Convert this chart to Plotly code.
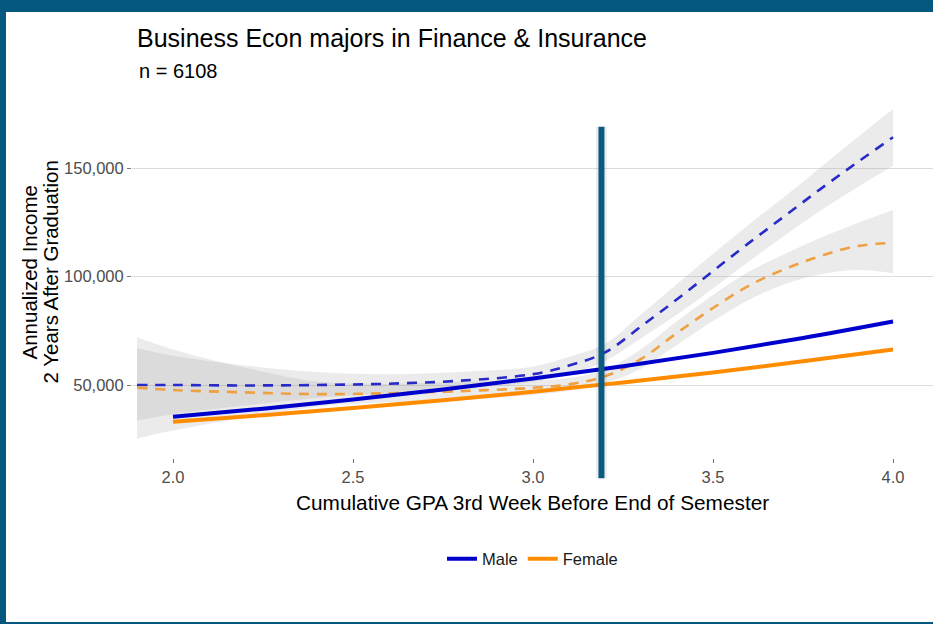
import plotly.graph_objects as go

# ---------------------------------------------------------------- data
# linear (log-scale) fits by gender
gpa_fit = [2.0, 2.25, 2.5, 2.75, 3.0, 3.25, 3.5, 3.75, 4.0]
male_fit = [35400, 39100, 43300, 47900, 53000, 58600, 64800, 71700, 79300]
female_fit = [33100, 36100, 39400, 43000, 46900, 51200, 55800, 60900, 66400]

# loess smooths with confidence bands
gpa_smooth = [1.9, 2.0, 2.2, 2.4, 2.6, 2.8, 3.0, 3.1, 3.2, 3.3, 3.4, 3.5, 3.6, 3.7, 3.8, 3.9, 4.0]
male_smooth = [50000, 50000, 49800, 50000, 50600, 52000, 55000, 59000, 65000, 77000,
               89500, 102500, 115500, 128000, 140500, 152500, 164200]
male_lo = [33600, 36500, 40500, 44000, 46300, 48000, 51500, 55000, 61000, 71500,
           82500, 94500, 107000, 119000, 130500, 141000, 151000]
male_hi = [66900, 63500, 59000, 56000, 55000, 56000, 58500, 63000, 69000, 82500,
           96500, 110500, 124000, 137000, 150500, 164000, 177200]
female_smooth = [48800, 47700, 46600, 45800, 46200, 47200, 48700, 50300, 54000, 62000,
                 74000, 85500, 95800, 103500, 109500, 114000, 115500]
female_lo = [25400, 29000, 35000, 40000, 42000, 43000, 45500, 47300, 50800, 57500,
             68500, 79500, 89300, 96500, 101000, 103000, 101500]
female_hi = [72000, 66400, 58000, 51600, 50500, 51500, 52000, 53300, 57200, 66500,
             79500, 91500, 102300, 110500, 118000, 124500, 130600]

# GPA cutoff marker and its vertical extent (income units)
cutoff_gpa = 3.19
cutoff_span = [7000, 169000]

y_ticks = [50000, 100000, 150000]
x_ticks = [2.0, 2.5, 3.0, 3.5, 4.0]

# ---------------------------------------------------------------- layout constants
W, H = 933, 624
M_L, M_R, M_T, M_B = 132, 0, 100, 166
PW, PH = W - M_L - M_R, H - M_T - M_B
X_RANGE = [1.886, 4.111]
Y_RANGE = [16360, 181340]

FONT = "Liberation Sans, Arial, sans-serif"
BLUE, ORANGE = "#0000cd", "#ff8c00"
BLUE_D, ORANGE_D = "#2a2ac8", "#efa040"
BAND = "rgba(153,153,153,0.2)"
FRAME = "#04577f"


def px_x(p):
    return (p - M_L) / PW


def px_y(p):
    return (H - M_B - p) / PH


def val_to_paper_y(v):
    return (v - Y_RANGE[0]) / (Y_RANGE[1] - Y_RANGE[0])


fig = go.Figure()

# confidence bands: lower edge, then upper edge filled down to it
for lo, hi in [(male_lo, male_hi), (female_lo, female_hi)]:
    fig.add_trace(go.Scatter(
        x=gpa_smooth, y=lo, mode="lines", line=dict(width=0, shape="spline"),
        hoverinfo="skip", showlegend=False))
    fig.add_trace(go.Scatter(
        x=gpa_smooth, y=hi, mode="lines", line=dict(width=0, shape="spline"),
        fill="tonexty", fillcolor=BAND, hoverinfo="skip", showlegend=False))

# loess smooths (dashed)
for ys, col in [(male_smooth, BLUE_D), (female_smooth, ORANGE_D)]:
    fig.add_trace(go.Scatter(
        x=gpa_smooth, y=ys, mode="lines", showlegend=False,
        line=dict(color=col, width=2.6, dash="10px,8px", shape="spline")))

# fitted lines (solid)
fig.add_trace(go.Scatter(x=gpa_fit, y=male_fit, mode="lines", name="Male",
                         line=dict(color=BLUE, width=4, shape="spline")))
fig.add_trace(go.Scatter(x=gpa_fit, y=female_fit, mode="lines", name="Female",
                         line=dict(color=ORANGE, width=4, shape="spline")))

shapes = [
    # cutoff marker with a soft shadow
    dict(type="line", xref="x", yref="paper", x0=cutoff_gpa, x1=cutoff_gpa,
         y0=val_to_paper_y(cutoff_span[0]), y1=val_to_paper_y(cutoff_span[1]),
         line=dict(color="rgba(0,0,0,0.07)", width=11), layer="above"),
    dict(type="line", xref="x", yref="paper", x0=cutoff_gpa, x1=cutoff_gpa,
         y0=val_to_paper_y(cutoff_span[0]), y1=val_to_paper_y(cutoff_span[1]),
         line=dict(color="#0b5a80", width=6), layer="above"),
    # frame around the figure
    dict(type="rect", xref="paper", yref="paper", x0=px_x(0), x1=px_x(W),
         y0=px_y(12), y1=px_y(0), fillcolor=FRAME, line_width=0, layer="above"),
    dict(type="rect", xref="paper", yref="paper", x0=px_x(0), x1=px_x(6),
         y0=px_y(H), y1=px_y(0), fillcolor=FRAME, line_width=0, layer="above"),
    dict(type="rect", xref="paper", yref="paper", x0=px_x(0), x1=px_x(W),
         y0=px_y(H), y1=px_y(H - 2), fillcolor=FRAME, line_width=0, layer="above"),
]

annotations = [
    dict(text="n = 6108", xref="paper", yref="paper", x=px_x(137), y=px_y(71),
         xanchor="left", yanchor="middle", showarrow=False,
         font=dict(family=FONT, size=20, color="#000000")),
    dict(text="Cumulative GPA 3rd Week Before End of Semester", xref="paper", yref="paper",
         x=0.5, y=px_y(502), xanchor="center", yanchor="middle", showarrow=False,
         font=dict(family=FONT, size=20.8, color="#000000")),
    dict(text="Annualized Income", xref="paper", yref="paper", textangle=-90,
         x=px_x(28.5), y=px_y(272), xanchor="center", yanchor="middle", showarrow=False,
         font=dict(family=FONT, size=20.5, color="#000000")),
    dict(text="2 Years After Graduation", xref="paper", yref="paper", textangle=-90,
         x=px_x(49.5), y=px_y(272), xanchor="center", yanchor="middle", showarrow=False,
         font=dict(family=FONT, size=20.5, color="#000000")),
]

fig.update_layout(
    width=W, height=H,
    margin=dict(l=M_L, r=M_R, t=M_T, b=M_B, autoexpand=False),
    paper_bgcolor="white", plot_bgcolor="white",
    font=dict(family=FONT),
    title=dict(text="Business Econ majors in Finance & Insurance",
               xref="container", yref="container", x=137 / W, y=1 - 38 / H,
               xanchor="left", yanchor="middle",
               font=dict(family=FONT, size=25, color="#000000")),
    xaxis=dict(range=X_RANGE, tickvals=x_ticks, tickformat=".1f", showgrid=False,
               zeroline=False, showline=False, ticks="outside", ticklen=4,
               tickcolor="#777777", tickfont=dict(family=FONT, size=16.5, color="#4d4d4d")),
    yaxis=dict(range=Y_RANGE, tickvals=y_ticks, tickformat=",", showgrid=True,
               gridcolor="#dcdcdc", gridwidth=1, zeroline=False, showline=False,
               ticks="outside", ticklen=4, tickcolor="#777777",
               tickfont=dict(family=FONT, size=16.5, color="#4d4d4d")),
    legend=dict(orientation="h", x=0.5, xanchor="center", y=px_y(559), yanchor="middle",
                font=dict(family=FONT, size=16.5, color="#1a1a1a"), traceorder="normal",
                bgcolor="rgba(0,0,0,0)", itemwidth=30, tracegroupgap=0),
    shapes=shapes,
    annotations=annotations,
)

fig.write_html("out.html")
